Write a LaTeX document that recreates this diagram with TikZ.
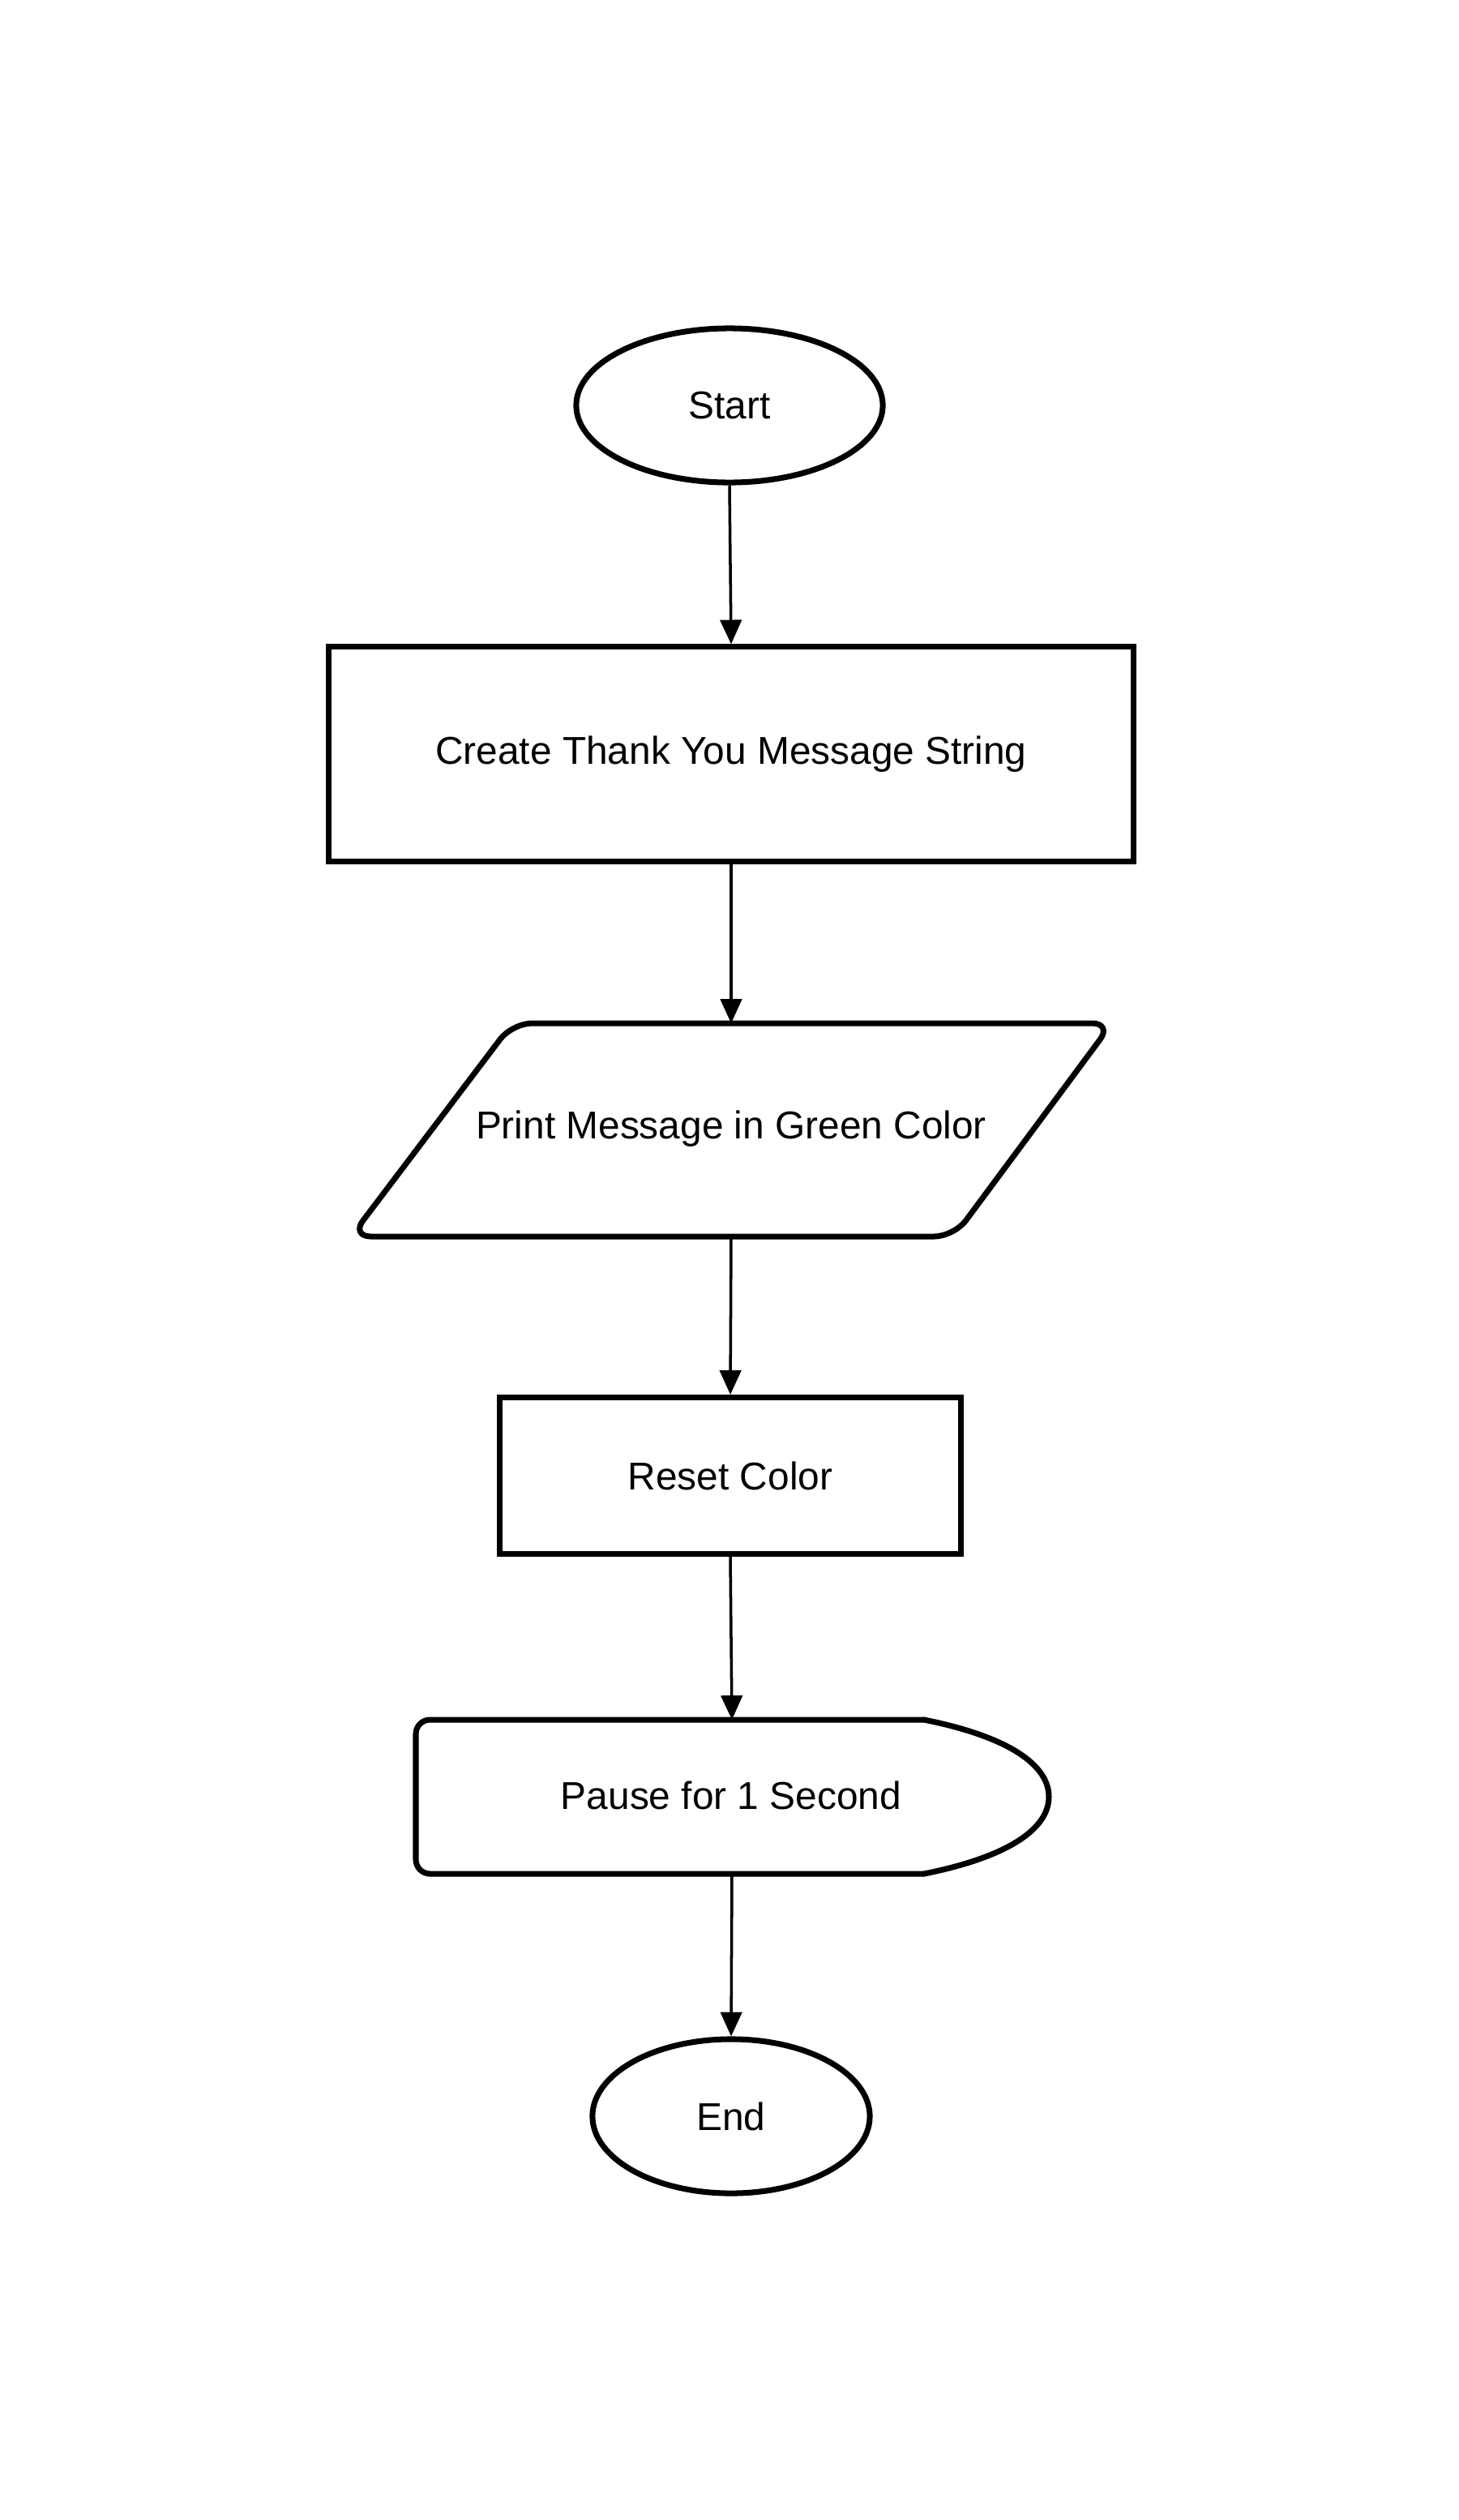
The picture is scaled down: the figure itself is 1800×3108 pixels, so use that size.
\documentclass[tikz,border=0pt]{standalone}
\usepackage{fontspec}
\setmainfont{Liberation Sans}
\usetikzlibrary{shapes.geometric,arrows.meta}
\begin{document}
\begin{tikzpicture}[x=0.01cm,y=-0.01cm,
  shapeline/.style={line width=2pt},
  lbl/.style={font=\fontsize{13.6}{16}\selectfont},
  term/.style={draw, ellipse, shapeline, inner sep=0pt, lbl},
  procbox/.style={draw, rectangle, shapeline, inner sep=0pt, lbl},
  conn/.style={line width=1pt, -{Triangle[length=8.5pt,width=7.5pt]}}]
\useasboundingbox[fill=white] (0,0) rectangle (1800,3108);

\node[term, minimum width=3.78cm, minimum height=1.9cm] (start) at (900,500) {Start};

\node[procbox, minimum width=9.92cm, minimum height=2.64cm] (create) at (902,930) {Create Thank You Message String};

\draw[shapeline, rounded corners=7pt] (632,1262) -- (1372,1262) -- (1177,1525) -- (433,1525) -- cycle;
\node[lbl] (print) at (902,1392) {Print Message in Green Color};
\coordinate (printtop) at (902,1262);
\coordinate (printbot) at (902,1525);

\node[procbox, minimum width=5.68cm, minimum height=1.93cm] (reset) at (901,1820) {Reset Color};

\draw[shapeline, rounded corners=5pt, line cap=round] (1140,2121) -- (513,2121) -- (513,2311) -- (1140,2311);
\draw[shapeline, line cap=round] (1140,2311) .. controls (1245,2290) and (1294,2255) .. (1294,2216) .. controls (1294,2177) and (1245,2142) .. (1140,2121);
\node[lbl] (pause) at (902,2214) {Pause for 1 Second};
\coordinate (pausetop) at (903,2121);
\coordinate (pausebot) at (903,2311);

\node[term, minimum width=3.42cm, minimum height=1.9cm] (end) at (902,2610) {End};

\draw[conn] (start.south) -- (create.north);
\draw[conn] (create.south) -- (printtop);
\draw[conn] (printbot) -- (reset.north);
\draw[conn] (reset.south) -- (pausetop);
\draw[conn] (pausebot) -- (end.north);
\end{tikzpicture}
\end{document}
